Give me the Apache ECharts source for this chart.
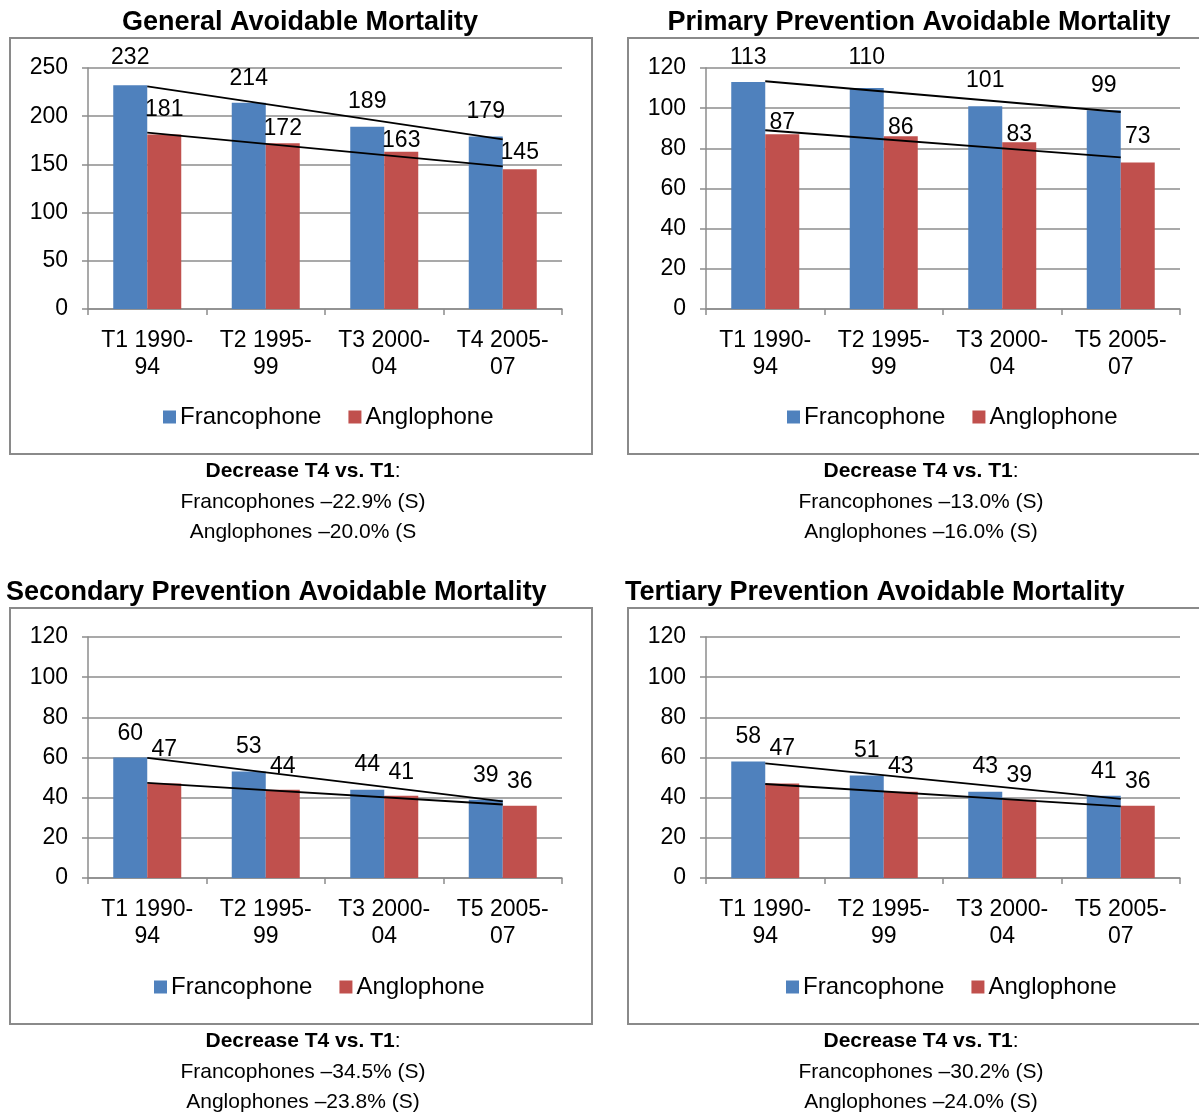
<!DOCTYPE html>
<html>
<head>
<meta charset="utf-8">
<style>
  html, body { margin: 0; padding: 0; background: #fff; }
  #chart { width: 1199px; height: 1113px; }
</style>
<script src="https://cdn.jsdelivr.net/npm/echarts@6/dist/echarts.min.js"></script>
</head>
<body>
<div id="chart"></div>
<script>
// ---------------- DATA ----------------
const categoriesT4 = ['T1 1990-94', 'T2 1995-99', 'T3 2000-04', 'T4 2005-07'];
const categoriesT5 = ['T1 1990-94', 'T2 1995-99', 'T3 2000-04', 'T5 2005-07'];
const seriesNames = ['Francophone', 'Anglophone'];

const generalFr   = [232, 214, 189, 179];
const generalAn   = [181, 172, 163, 145];
const primaryFr   = [113, 110, 101, 99];
const primaryAn   = [87, 86, 83, 73];
const secondaryFr = [60, 53, 44, 39];
const secondaryAn = [47, 44, 41, 36];
const tertiaryFr  = [58, 51, 43, 41];
const tertiaryAn  = [47, 43, 39, 36];

// trend line end values (first and last period)
const generalFrTrend   = [231, 176];
const generalAnTrend   = [183, 148];
const primaryFrTrend   = [113.4, 98.1];
const primaryAnTrend   = [89, 75.5];
const secondaryFrTrend = [59.8, 38.2];
const secondaryAnTrend = [47.4, 36.6];
const tertiaryFrTrend  = [57.1, 39.4];
const tertiaryAnTrend  = [46.8, 35.7];

const titles = [
  'General Avoidable Mortality',
  'Primary Prevention Avoidable Mortality',
  'Secondary Prevention Avoidable Mortality',
  'Tertiary Prevention Avoidable Mortality'
];
const noteHead = 'Decrease T4 vs. T1';
const notesFr = ['Francophones \u201322.9% (S)', 'Francophones \u201313.0% (S)', 'Francophones \u201334.5% (S)', 'Francophones \u201330.2% (S)'];
const notesAn = ['Anglophones \u201320.0% (S', 'Anglophones \u201316.0% (S)', 'Anglophones \u201323.8% (S)', 'Anglophones \u201324.0% (S)'];

const yMax = [250, 120, 120, 120];
const yStep = [50, 20, 20, 20];

// ---------------- STYLE / LAYOUT ----------------
const FONT = '"Liberation Sans", Arial, sans-serif';
const BLUE = '#4F81BD';
const RED = '#C0504D';
const GRID_COLOR = '#8c8c8c';

const panels = [
  { cats: categoriesT4, fr: generalFr,   an: generalAn,   frT: generalFrTrend,   anT: generalAnTrend,
    grid: { left: 88, top: 68 },  box: [10, 38, 582, 416],  title: { x: 300, y: 23, align: 'center' },
    legendLeft: 163, legendY: 417, noteX: 303, noteY: 471 },
  { cats: categoriesT5, fr: primaryFr,   an: primaryAn,   frT: primaryFrTrend,   anT: primaryAnTrend,
    grid: { left: 706, top: 68 }, box: [628, 38, 590, 416], title: { x: 919, y: 23, align: 'center' },
    legendLeft: 787, legendY: 417, noteX: 921, noteY: 471 },
  { cats: categoriesT5, fr: secondaryFr, an: secondaryAn, frT: secondaryFrTrend, anT: secondaryAnTrend,
    grid: { left: 88, top: 637 }, box: [10, 608, 582, 416], title: { x: 6, y: 593, align: 'left' },
    legendLeft: 154, legendY: 987, noteX: 303, noteY: 1041 },
  { cats: categoriesT5, fr: tertiaryFr,  an: tertiaryAn,  frT: tertiaryFrTrend,  anT: tertiaryAnTrend,
    grid: { left: 706, top: 637 }, box: [628, 608, 590, 416], title: { x: 625, y: 593, align: 'left' },
    legendLeft: 786, legendY: 987, noteX: 921, noteY: 1041 }
];
// how far each value label's centre sits above its bar top (px)
const labelRaiseFr = [[28, 25, 26, 25], [25, 31, 26, 25], [24, 25, 25, 25], [25, 25, 25, 25]];
const labelRaiseAn = [[25, 15, 12, 17], [12, 9, 8, 26], [34, 23, 24, 25], [35, 25, 25, 25]];

const GRID_W = 474, GRID_H = 241;

const grids = [], xAxes = [], yAxes = [], series = [], legends = [], graphics = [];

panels.forEach((p, i) => {
  grids.push({ left: p.grid.left, top: p.grid.top, width: GRID_W, height: GRID_H, containLabel: false });
  xAxes.push({
    type: 'category', gridIndex: i, data: p.cats,
    axisLine: { lineStyle: { color: GRID_COLOR, width: 1.5 } },
    axisTick: { show: true, length: 6, lineStyle: { color: GRID_COLOR, width: 1.5 } },
    axisLabel: {
      color: '#000', fontSize: 23, fontFamily: FONT, lineHeight: 27, margin: 18,
      interval: 0, formatter: v => v.replace('-', '-\n')
    }
  });
  yAxes.push({
    type: 'value', gridIndex: i, min: 0, max: yMax[i], interval: yStep[i],
    axisLine: { show: true, lineStyle: { color: GRID_COLOR, width: 1.5 } },
    axisTick: { show: true, length: 6, lineStyle: { color: GRID_COLOR, width: 1.5 } },
    splitLine: { show: true, lineStyle: { color: GRID_COLOR, width: 1.5 } },
    axisLabel: { color: '#000', fontSize: 23, fontFamily: FONT, margin: 20 }
  });
  const labelBase = { show: true, position: 'top', color: '#000', fontSize: 23, fontFamily: FONT };
  series.push({
    name: seriesNames[0], type: 'bar', xAxisIndex: i, yAxisIndex: i,
    barWidth: 34, barGap: '0%', itemStyle: { color: BLUE },
    data: p.fr.map((v, k) => ({ value: v, label: { distance: labelRaiseFr[i][k] - 12 } })),
    label: labelBase
  });
  series.push({
    name: seriesNames[1], type: 'bar', xAxisIndex: i, yAxisIndex: i,
    barWidth: 34, barGap: '0%', itemStyle: { color: RED },
    data: p.an.map((v, k) => ({ value: v, label: { distance: labelRaiseAn[i][k] - 12 } })),
    label: labelBase
  });
  [p.frT, p.anT].forEach((t, j) => {
    const d = p.cats.map(() => '-');
    d[0] = t[0]; d[d.length - 1] = t[1];
    series.push({
      name: 'trend' + i + '_' + j, type: 'line', xAxisIndex: i, yAxisIndex: i,
      data: d, connectNulls: true, symbol: 'none', silent: true, z: 5,
      lineStyle: { color: '#000', width: 1.8 }
    });
  });
  legends.push({
    data: seriesNames, left: p.legendLeft, top: p.legendY - 12, itemWidth: 13, itemHeight: 13,
    itemGap: 27, selectedMode: false, icon: 'rect', padding: 0,
    textStyle: { color: '#000', fontSize: 24, fontFamily: FONT, padding: [0, 0, 0, -1] }
  });
  graphics.push({
    type: 'rect', shape: { x: p.box[0], y: p.box[1], width: p.box[2], height: p.box[3] },
    style: { fill: 'none', stroke: '#8a8a8a', lineWidth: 2 }, silent: true
  });
  graphics.push({
    type: 'text', x: p.title.x, y: p.title.y,
    style: { text: titles[i], fontSize: 27, fontWeight: 'bold', fontFamily: FONT, fill: '#000',
             textAlign: p.title.align, textVerticalAlign: 'middle', align: p.title.align, verticalAlign: 'middle' }
  });
  graphics.push({
    type: 'text', x: p.noteX, y: p.noteY,
    style: { text: '{b|' + noteHead + '}:', fontSize: 21, fontFamily: FONT, fill: '#000',
             rich: { b: { fontSize: 21, fontFamily: FONT, fontWeight: 'bold', fill: '#000' } },
             textAlign: 'center', textVerticalAlign: 'middle', align: 'center', verticalAlign: 'middle' }
  });
  graphics.push({
    type: 'text', x: p.noteX, y: p.noteY + 31,
    style: { text: notesFr[i], fontSize: 21, fontFamily: FONT, fill: '#000',
             textAlign: 'center', textVerticalAlign: 'middle', align: 'center', verticalAlign: 'middle' }
  });
  graphics.push({
    type: 'text', x: p.noteX, y: p.noteY + 61,
    style: { text: notesAn[i], fontSize: 21, fontFamily: FONT, fill: '#000',
             textAlign: 'center', textVerticalAlign: 'middle', align: 'center', verticalAlign: 'middle' }
  });
});

const chart = echarts.init(document.getElementById('chart'), null, { renderer: 'canvas' });
chart.setOption({
  backgroundColor: '#fff',
  animation: false,
  grid: grids, xAxis: xAxes, yAxis: yAxes, series: series, legend: legends,
  graphic: graphics
});
</script>
</body>
</html>
